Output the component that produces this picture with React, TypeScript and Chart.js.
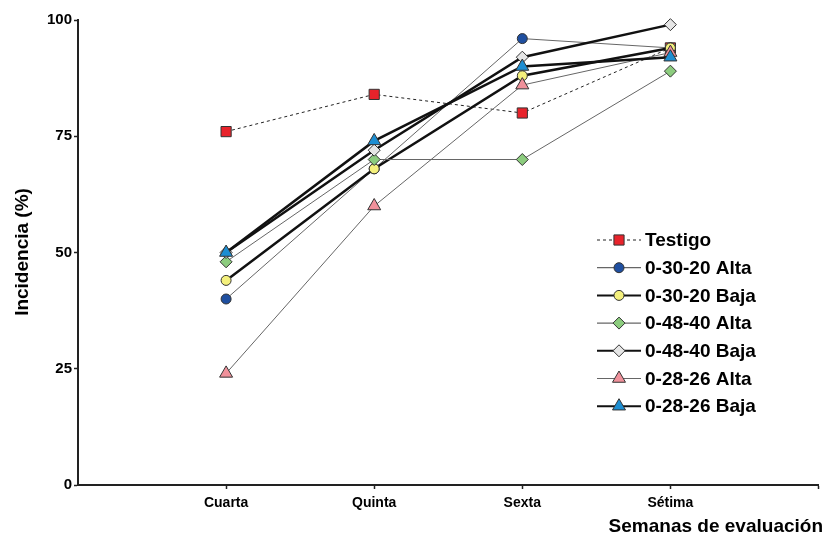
import React, { useEffect, useRef } from "react";
import { Chart, registerables } from "chart.js";

Chart.register(...registerables);

const categories = ["Cuarta", "Quinta", "Sexta", "Sétima"];
const yTicks = [0, 25, 50, 75, 100];
const seriesNames = ["Testigo", "0-30-20 Alta", "0-30-20 Baja", "0-48-40 Alta", "0-48-40 Baja", "0-28-26 Alta", "0-28-26 Baja"];
const testigo = [76, 84, 80, 94];
const alta3020 = [40, 68, 96, 94];
const baja3020 = [44, 68, 88, 94];
const alta4840 = [48, 70, 70, 89];
const baja4840 = [50, 72, 92, 99];
const alta2826 = [24, 60, 86, 93];
const baja2826 = [50, 74, 90, 92];

const FONT = "'Liberation Sans', Arial, sans-serif";

type Style = { line: string; width: number; dash: number[]; fill: string; shape: string; radius: number };
const styles: Style[] = [
  { line: "#222", width: 1, dash: [3, 3], fill: "#e8232b", shape: "rect", radius: 7.2 },
  { line: "#666", width: 1, dash: [], fill: "#1f4fa0", shape: "circle", radius: 5 },
  { line: "#111", width: 2.5, dash: [], fill: "#f4f07c", shape: "circle", radius: 5 },
  { line: "#666", width: 1, dash: [], fill: "#8ccc7e", shape: "rectRot", radius: 6 },
  { line: "#111", width: 2.5, dash: [], fill: "#e6e6e6", shape: "rectRot", radius: 6 },
  { line: "#666", width: 1, dash: [], fill: "#f0919b", shape: "triangle", radius: 7.5 },
  { line: "#111", width: 2.5, dash: [], fill: "#1d8ed2", shape: "triangle", radius: 7.5 },
];
const allData = [testigo, alta3020, baja3020, alta4840, baja4840, alta2826, baja2826];

function drawMarker(ctx: CanvasRenderingContext2D, shape: string, r: number, x: number, y: number) {
  ctx.beginPath();
  if (shape === "circle") {
    ctx.arc(x, y, r, 0, Math.PI * 2);
  } else if (shape === "rect") {
    const s = r / Math.SQRT2;
    ctx.rect(x - s, y - s, 2 * s, 2 * s);
  } else if (shape === "rectRot") {
    ctx.moveTo(x, y - r);
    ctx.lineTo(x + r, y);
    ctx.lineTo(x, y + r);
    ctx.lineTo(x - r, y);
    ctx.closePath();
  } else {
    const w = r * Math.sqrt(3) / 2;
    ctx.moveTo(x, y - r);
    ctx.lineTo(x + w, y + r / 2);
    ctx.lineTo(x - w, y + r / 2);
    ctx.closePath();
  }
  ctx.fill();
  ctx.stroke();
}

const overlay = {
  id: "overlay",
  afterDraw(chart: any) {
    const ctx = chart.ctx as CanvasRenderingContext2D;
    ctx.save();
    ctx.fillStyle = "#000";
    ctx.font = `bold 19px ${FONT}`;
    ctx.save();
    ctx.translate(23, 252);
    ctx.rotate(-Math.PI / 2);
    ctx.textAlign = "center";
    ctx.textBaseline = "middle";
    ctx.fillText("Incidencia (%)", 0, 0);
    ctx.restore();
    ctx.textAlign = "right";
    ctx.textBaseline = "middle";
    ctx.fillText("Semanas de evaluación", 823, 527);
    const x0 = 597, x1 = 641, xm = 619;
    const yStart = 240, dy = 27.7;
    seriesNames.forEach((name, i) => {
      const s = styles[i];
      const y = yStart + i * dy;
      ctx.save();
      ctx.strokeStyle = s.line;
      ctx.lineWidth = i === 0 ? 1 : s.width === 1 ? 1.2 : 2;
      ctx.setLineDash(s.dash);
      ctx.beginPath();
      ctx.moveTo(x0, y);
      ctx.lineTo(x1, y);
      ctx.stroke();
      ctx.restore();
      ctx.save();
      ctx.fillStyle = s.fill;
      ctx.strokeStyle = "#333";
      ctx.lineWidth = 1;
      ctx.setLineDash([]);
      drawMarker(ctx, s.shape, s.radius, xm, y);
      ctx.restore();
      ctx.fillStyle = "#000";
      ctx.textAlign = "left";
      ctx.textBaseline = "middle";
      ctx.font = `bold 19px ${FONT}`;
      ctx.fillText(name, 645, y + 1);
    });
    ctx.restore();
  },
};

export default function App() {
  const ref = useRef<HTMLCanvasElement | null>(null);
  useEffect(() => {
    if (!ref.current) return;
    const datasets = allData.map((d, i) => {
      const s = styles[i];
      return {
        label: seriesNames[i],
        data: d.map((v, j) => ({ x: j + 1, y: v })),
        borderColor: s.line,
        borderWidth: s.width,
        borderDash: s.dash,
        backgroundColor: s.fill,
        pointBackgroundColor: s.fill,
        pointBorderColor: "#333",
        pointBorderWidth: 1,
        pointStyle: s.shape,
        pointRadius: s.radius,
        tension: 0,
        order: 10 - i,
        clip: false as any,
      };
    });
    const chart = new Chart(ref.current, {
      type: "line",
      data: { datasets },
      plugins: [overlay],
      options: {
        animation: false,
        responsive: false,
        devicePixelRatio: 1,
        layout: { padding: { left: 8, top: 20, right: 5, bottom: 0 } },
        plugins: { legend: { display: false }, tooltip: { enabled: false } },
        scales: {
          x: {
            type: "linear",
            min: 0,
            max: 5,
            afterFit: (scale: any) => { scale.height = 51; },
            afterBuildTicks: (scale: any) => {
              scale.ticks = [1, 2, 3, 4, 5].map((v) => ({ value: v }));
            },
            ticks: {
              color: "#000",
              font: { family: FONT, size: 14, weight: "bold" },
              padding: 6,
              maxRotation: 0,
              autoSkip: false,
              callback: (v: any) => categories[Number(v) - 1] ?? "",
            },
            grid: { drawOnChartArea: false, color: "#222", tickLength: 4, tickWidth: 1.5 },
            border: { color: "#222", width: 2 },
          },
          y: {
            min: 0,
            max: 100,
            afterFit: (scale: any) => { scale.width = 70; },
            afterBuildTicks: (scale: any) => {
              scale.ticks = yTicks.map((v) => ({ value: v }));
            },
            ticks: {
              color: "#000",
              font: { family: FONT, size: 15, weight: "bold" },
              padding: 2,
            },
            grid: { drawOnChartArea: false, color: "#222", tickLength: 4, tickWidth: 1.5 },
            border: { color: "#222", width: 2 },
          },
        },
      },
    });
    return () => chart.destroy();
  }, []);
  return (
    <div style={{ position: "absolute", left: 0, top: 0, width: 827, height: 536, background: "#fff" }}>
      <canvas ref={ref} width={827} height={536} style={{ display: "block", width: 827, height: 536 }} />
    </div>
  );
}
